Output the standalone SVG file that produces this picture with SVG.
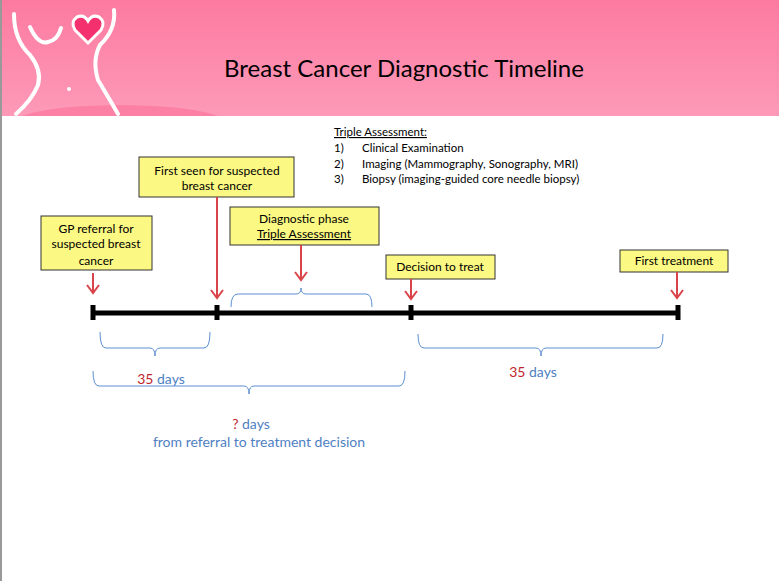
<svg xmlns="http://www.w3.org/2000/svg" width="779" height="581" viewBox="0 0 779 581">
<defs>
<linearGradient id="hd" x1="0" y1="0" x2="0" y2="1"><stop offset="0" stop-color="#fc7aa0"/><stop offset="1" stop-color="#fd9ab8"/></linearGradient>
<style>
text{font-family:Lato,"Open Sans","Liberation Sans",sans-serif;}
.box{fill:#fbf883;stroke:#333;stroke-width:1}
.bt{font-size:12px;text-anchor:middle;fill:#000}
.arr{stroke:#d9444a;stroke-width:2;fill:none}
.br{stroke:#5b8fd0;stroke-width:1;fill:none}
.blue{fill:#4f7fc3;font-size:14px}
.red{fill:#c0262d}
.lst{font-size:11.5px;fill:#000}
</style>
</defs>
<rect width="779" height="581" fill="#fff"/>
<rect x="0" y="0" width="779" height="116" fill="url(#hd)"/>
<ellipse cx="120" cy="125" rx="110" ry="20" fill="#fb6f98" opacity="0.6"/>
<rect x="0" y="116" width="779" height="465" fill="#fff"/>
<line x1="1" y1="0" x2="1" y2="581" stroke="#999" stroke-width="2"/>
<g id="logo" fill="none" stroke="#fff" stroke-width="4" stroke-linecap="round">
<path d="M14 14 Q14 40 30 55 Q42 70 38 85 Q32 100 16 114"/>
<path d="M30 27 Q38 45 48 42 Q58 40 61 28"/>
<path d="M114 10 Q116 30 100 45 Q92 60 98 80 Q110 100 118 114"/>
<circle cx="69" cy="89" r="2" fill="#fff" stroke="none"/>
<path d="M88 43 L75 30 Q70 22 77 17 Q84 14 88 21 Q92 14 99 17 Q106 22 101 30 Z" fill="#f5306e" stroke-width="3"/>
</g>
<text x="404" y="77" font-size="24" text-anchor="middle" fill="#000">Breast Cancer Diagnostic Timeline</text>
<g id="triple">
<text x="334" y="136" class="lst" text-decoration="underline">Triple Assessment:</text>
<text x="334" y="152" class="lst">1)</text><text x="362" y="152" class="lst">Clinical Examination</text>
<text x="334" y="168" class="lst">2)</text><text x="362" y="168" class="lst">Imaging (Mammography, Sonography, MRI)</text>
<text x="334" y="183" class="lst">3)</text><text x="362" y="183" class="lst">Biopsy (imaging-guided core needle biopsy)</text>
</g>
<g id="timeline">
<line x1="93" y1="313" x2="678" y2="313" stroke="#000" stroke-width="5"/>
<g stroke="#000" stroke-width="5"><line x1="93" y1="305" x2="93" y2="320"/><line x1="217" y1="305" x2="217" y2="320"/><line x1="411" y1="305" x2="411" y2="320"/><line x1="678" y1="305" x2="678" y2="320"/></g>
</g>
<g id="n-gp"><rect class="box" x="41" y="216" width="111" height="54"/>
<text class="bt" x="96" y="233">GP referral for</text><text class="bt" x="96" y="248">suspected breast</text><text class="bt" x="96" y="265">cancer</text></g>
<g id="n-first"><rect class="box" x="139" y="157" width="155" height="40"/>
<text class="bt" x="217" y="175">First seen for suspected</text><text class="bt" x="217" y="190">breast cancer</text></g>
<g id="n-diag"><rect class="box" x="230" y="207" width="149" height="38"/>
<text class="bt" x="304" y="223">Diagnostic phase</text><text class="bt" x="304" y="238" text-decoration="underline">Triple Assessment</text></g>
<g id="n-decision"><rect class="box" x="386" y="255" width="109" height="24"/>
<text class="bt" x="440" y="271">Decision to treat</text></g>
<g id="n-treat"><rect class="box" x="620" y="250" width="108" height="22"/>
<text class="bt" x="674" y="265">First treatment</text></g>
<g id="connectors">
<path class="arr" d="M93 273V293M87 285L93 293L99 285"/>
<path class="arr" d="M217 197V298M211 290L217 298L223 290"/>
<path class="arr" d="M301 245V280M295 272L301 280L307 272"/>
<path class="arr" d="M411 279V299M405 291L411 299L417 291"/>
<path class="arr" d="M677 272V298M671 290L677 298L683 290"/>
<path class="br" d="M231 307Q231 294 238 294H296Q301 294 301 288Q301 294 306 294H366Q372 294 372 307"/>
<path class="br" d="M100 332Q100 348 106 348H150Q155 348 155 356Q155 348 160 348H204Q210 348 210 332"/>
<path class="br" d="M93 371Q93 386 99 386H244Q249 386 249 394Q249 386 254 386H399Q405 386 405 371"/>
<path class="br" d="M418 334Q418 348 424 348H536Q541 348 541 356Q541 348 546 348H657Q663 348 663 334"/>
</g>
<g id="labels">
<text x="161" y="384" class="blue" text-anchor="middle"><tspan class="red">35</tspan> days</text>
<text x="533" y="377" class="blue" text-anchor="middle"><tspan class="red">35</tspan> days</text>
<text x="251" y="429" class="blue" text-anchor="middle"><tspan class="red">?</tspan> days</text>
<text x="259" y="447" class="blue" text-anchor="middle">from referral to treatment decision</text>
</g>
</svg>
